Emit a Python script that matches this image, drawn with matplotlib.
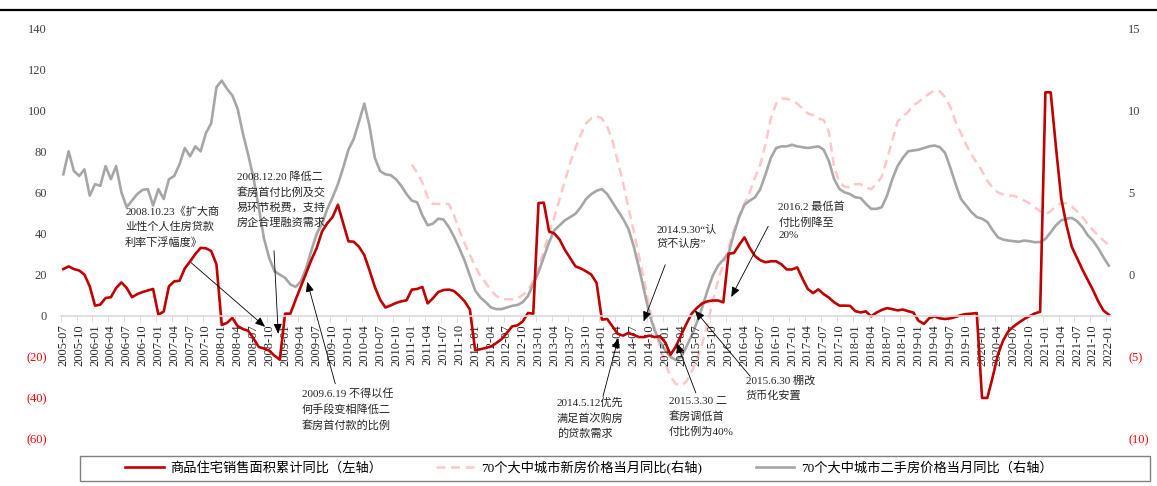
import numpy as np
import pandas as pd
import matplotlib
matplotlib.use('Agg')
import matplotlib.pyplot as plt
from matplotlib.lines import Line2D
from matplotlib.patches import Rectangle

plt.rcParams['font.family'] = ['Liberation Serif', 'Noto Sans CJK SC']

# months 2005-07 .. 2022-01
months = pd.date_range('2005-07-01', '2022-01-01', freq='MS').strftime('%Y-%m').tolist()
new_start = months.index('2011-01')

# 商品住宅销售面积累计同比 (%), left axis
sales_area = [
    22.7, 24, 22.7, 22, 20, 14.3,
    4.9, 5.4, 8.6, 9, 13.5, 16.2, 13.5, 9, 10.5, 11.5, 12.3, 13,
    0.5, 2, 14.3, 16.7, 17, 23, 26.4, 30, 33, 32.8, 31.5, 25,
    -4.5, -3.5, -1.1, -5, -6.5, -7.3, -11, -15.2, -16, -17, -19.5, -21.4,
    1, 1, 7.8, 14.3, 20.8, 27.3, 33, 41, 45, 48, 54, 45,
    36.2, 36, 33.5, 29.5, 22, 14, 7.8, 4, 5, 6.2, 7, 7.5,
    12.7, 13, 14, 6, 8.5, 11.5, 12.5, 12.7, 12, 9.7, 7, 3,
    -16.8, -16.3, -15.7, -15, -13.3, -11.4, -8.4, -5.2, -4.7, -2.8, 1.3, 1,
    54.8, 55, 41, 40, 37, 32, 28, 24, 23, 21.6, 20, 15.9,
    -1.9, -1.6, -5.2, -8.8, -9.7, -8.4, -9.3, -10.4, -10.4, -9.7, -10.4, -10,
    -13, -19, -15, -9.5, -4, 1, 3.8, 6, 7, 7.4, 7.4, 6.5,
    30.2, 30.5, 34.5, 38.1, 33, 29, 27, 26, 26.5, 26.5, 25, 22.5,
    22.5, 23.5, 18, 13, 11, 12.8, 10.5, 8.8, 6.5, 4.9, 4.9, 4.8,
    2.2, 1.6, 2.1, -0.3, 1.5, 2.8, 3.7, 3.2, 2.6, 3, 2.2, 1.5,
    -2.5, -4, -1.2, -0.3, -1.3, -1.6, -1.3, -0.6, 0.3, 0.8, 1, 1.3,
    -40, -40, -30, -19, -12, -7.5, -5.2, -3.3, -1.6, -0.2, 1.1, 1.9,
    108.7, 108.7, 82, 57, 44, 33.5, 28, 22.5, 17.5, 12.5, 7, 2.5,
    0.5,
]

# 70个大中城市二手房价格当月同比 (%), right axis
second_hand = [
    6.1, 7.5, 6.3, 6.0, 6.4, 4.8,
    5.5, 5.4, 6.6, 5.8, 6.6, 5.0, 4.1, 4.5, 4.9, 5.15, 5.2, 4.2,
    5.2, 4.6, 5.8, 6.0, 6.7, 7.7, 7.2, 7.8, 7.5, 8.6, 9.2, 11.4,
    11.8, 11.3, 10.9, 10.1, 8.6, 7.3, 5.9, 4.1, 2.2, 1.0, 0.2, 0.0,
    -0.2, -0.6, -0.75, -0.4, 0.4, 1.5, 2.5, 3.1, 4.0, 4.7, 5.5, 6.5,
    7.6, 8.25, 9.3, 10.4, 9.0, 7.1, 6.3, 6.1, 6.05, 5.8, 5.4, 4.9,
    4.5, 4.4, 3.6, 3.0, 3.1, 3.4, 3.35, 2.9, 2.3, 1.6, 0.85, -0.06,
    -0.97, -1.4, -1.68, -2.0, -2.1, -2.1, -2.0, -1.9, -1.85, -1.68, -1.3, -0.57,
    0.14, 1.05, 1.97, 2.7, 3.0, 3.3, 3.5, 3.7, 4.1, 4.6, 4.9, 5.1,
    5.2, 4.9, 4.4, 3.9, 3.4, 2.8, 1.76, 0.45, -0.97, -2.4, -3.4, -4.1,
    -4.6, -5.0, -5.2, -5.0, -4.4, -3.7, -2.9, -2.0, -0.97, -0.06, 0.55, 0.9,
    1.3, 2.5, 3.5, 4.25, 4.5, 4.7, 5.2, 6.1, 7.1, 7.7, 7.8, 7.8,
    7.9, 7.8, 7.75, 7.7, 7.75, 7.8, 7.6, 6.9, 5.8, 5.2, 5.0, 4.9,
    4.7, 4.66, 4.3, 4.0, 4.0, 4.1, 4.8, 5.8, 6.6, 7.1, 7.5, 7.55,
    7.6, 7.7, 7.8, 7.85, 7.75, 7.4, 6.5, 5.5, 4.6, 4.2, 3.8, 3.5,
    3.4, 3.2, 2.7, 2.27, 2.13, 2.07, 2.03, 2.0, 2.07, 2.03, 1.97, 1.98,
    2.17, 2.57, 3.0, 3.3, 3.4, 3.45, 3.25, 2.9, 2.4, 2.07, 1.6, 1.05,
    0.55,
]

# 70个大中城市新房价格当月同比 (%), right axis, from 2011-01
new_house = [
    6.7, 6.2, 5.6, 4.7, 4.3, 4.3, 4.3, 4.3, 3.6, 2.7, 1.9, 1.2,
    0.5, -0.1, -0.5, -0.97, -1.3, -1.48, -1.5, -1.5, -1.45, -1.24, -0.97, -0.36,
    0.45, 1.46, 2.47, 3.5, 4.6, 5.7, 6.8, 7.7, 8.5, 9.2, 9.5, 9.65,
    9.5, 9.0, 8.15, 6.9, 5.6, 4.1, 2.7, 1.15, -0.36, -2.0, -3.3, -4.4,
    -5.4, -6.2, -6.65, -6.75, -6.5, -5.9, -5.2, -4.2, -3.0, -1.6, -0.36, 0.65,
    1.66, 2.7, 3.6, 4.3, 5.0, 5.9, 6.7, 7.95, 9.5, 10.4, 10.7, 10.7,
    10.6, 10.4, 10.1, 9.8, 9.7, 9.5, 9.4, 8.65, 6.5, 5.6, 5.35, 5.3,
    5.5, 5.5, 5.3, 5.2, 5.5, 5.95, 7.0, 8.15, 9.3, 9.6, 9.9, 10.3,
    10.5, 10.8, 11.0, 11.2, 11.15, 10.8, 10.2, 9.3, 8.6, 7.9, 7.3, 6.8,
    6.3, 5.7, 5.3, 5.0, 4.87, 4.8, 4.8, 4.66, 4.5, 4.34, 4.1, 3.85,
    3.65, 3.85, 4.2, 4.34, 4.34, 4.14, 3.85, 3.5, 3.08, 2.7, 2.37, 2.07,
    1.8,
]

labels = ['商品住宅销售面积累计同比（左轴）',
          '70个大中城市新房价格当月同比(右轴)',
          '70个大中城市二手房价格当月同比（右轴）']

# policy notes: text, text top-left (month idx, left value), arrow tail, arrow head
notes = [
    ('2008.10.23《扩大商\n业性个人住房贷款\n利率下浮幅度》', (11.7, 53.0), (24.2, 25.8), (38.2, -5.4)),
    ('2008.12.20 降低二\n套房首付比例及交\n易环节税费，支持\n房企合理融资需求', (32.9, 70.1), (39.9, 31.6), (40.7, -8.8)),
    ('2009.6.19 不得以任\n何手段变相降低二\n套房首付款的比例', (45.2, -35.5), (51.5, -33.1), (46.2, 16.5)),
    ('2014.9.30“认\n贷不认房”', (112.4, 44.3), (114.0, 24.8), (109.9, -2.8)),
    ('2014.5.12优先\n满足首次购房\n的贷款需求', (93.5, -39.7), (102.2, -39.3), (105.1, -10.9)),
    ('2015.3.30 二\n套房调低首\n付比例为40%', (114.7, -39.7), (119.8, -37.6), (116.2, -13.3)),
    ('2015.6.30 棚改\n货币化安置', (129.3, -29.0), (130.1, -29.5), (119.6, 2.6)),
    ('2016.2 最低首\n付比例降至\n20%', (135.4, 55.5), (133.5, 43.5), (126.5, 9.1)),
]

W, H = 1157, 486
fig = plt.figure(figsize=(W / 100, H / 100), dpi=100)
ax = fig.add_axes([60.7 / W, 1 - 439 / H, 1050.7 / W, 411 / H])
ax2 = ax.twinx()

x = np.arange(len(months))
x_new = np.arange(new_start, new_start + len(new_house))

l2, = ax2.plot(x_new, new_house, color='#FFC7C7', lw=1.8, dashes=(3.6, 2.2))
l3, = ax2.plot(x, second_hand, color='#A6A6A6', lw=1.9)
l1, = ax.plot(x, sales_area, color='#C00000', lw=1.9)
ax.set_zorder(ax2.get_zorder() + 1)
ax.patch.set_visible(False)

ax.set_xlim(-0.5, len(months) - 0.5)
ax.set_ylim(-60, 140)
ax2.set_ylim(-10, 15)

def paren(t):
    return f'({-t})' if t < 0 else f'{t}'

lt = np.arange(-60, 141, 20)
ax.set_yticks(lt, [paren(t) for t in lt])
for t, lab in zip(lt, ax.get_yticklabels()):
    lab.set_color('#FF0000' if t < 0 else '#404040')
rt = np.arange(-10, 16, 5)
ax2.set_yticks(rt, [paren(t) for t in rt])
for t, lab in zip(rt, ax2.get_yticklabels()):
    lab.set_color('#FF0000' if t < 0 else '#404040')
ax.tick_params(axis='y', length=0, pad=10, labelsize=9)
ax2.tick_params(axis='y', length=0, pad=12, labelsize=9)

ax.set_xticks(x[::3], months[::3])
ax.set_xticks(np.arange(-0.5, len(months), 3), minor=True)
ax.tick_params(axis='x', which='major', length=0, pad=6, labelsize=9,
               labelcolor='#262626', labelrotation=90)
ax.tick_params(axis='x', which='minor', length=4, color='#D9D9D9')

for s in ['top', 'left', 'right']:
    ax.spines[s].set_visible(False)
for s in ax2.spines.values():
    s.set_visible(False)
ax.spines['bottom'].set_position(('data', 0))
ax.spines['bottom'].set_color('#D9D9D9')
ax.spines['bottom'].set_linewidth(1.2)

for txt, pos, tail, head in notes:
    ax.text(pos[0], pos[1], txt, ha='left', va='top', fontsize=8,
            linespacing=1.55, color='#262626', zorder=5)
    ax.annotate('', xy=head, xytext=tail,
                arrowprops=dict(arrowstyle='-|>,head_length=0.6,head_width=0.25',
                                color='black', lw=0.6, shrinkA=0, shrinkB=0,
                                mutation_scale=10), zorder=5)

# top rule
fig.add_artist(Line2D([0, 1], [1 - 10 / H] * 2, color='black', lw=1.6))

# legend
fig.add_artist(Rectangle((80 / W, 1 - 481 / H), 1070 / W, 25 / H, fill=False,
                         edgecolor='#808080', lw=1, transform=fig.transFigure))
fig.legend([l1, l2, l3], labels, ncol=3, frameon=False, loc='center left',
           bbox_to_anchor=(120 / W, 1 - 468 / H), fontsize=9.5,
           handlelength=2.9, handletextpad=0.5, columnspacing=4.1,
           borderaxespad=0)

fig.savefig('out.png', dpi=100)
